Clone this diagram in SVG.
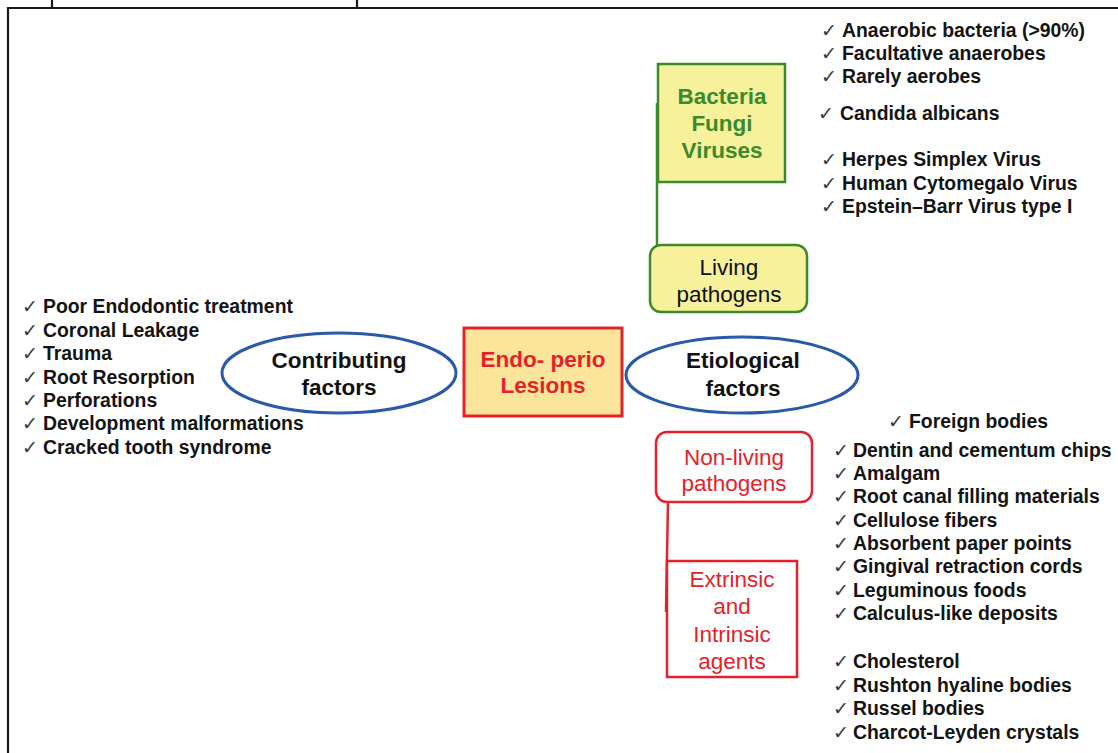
<svg xmlns="http://www.w3.org/2000/svg" width="1118" height="753" viewBox="0 0 1118 753">
<style>
.frame{fill:none;stroke:#1a1a1a;stroke-width:2.2}
.t{font-family:"Liberation Sans",Arial,sans-serif;font-size:22.5px;text-anchor:middle}
.b{font-weight:bold}
.li{font-family:"Liberation Sans",Arial,sans-serif;font-size:19.4px;font-weight:bold;fill:#141414}
.ck{font-family:"DejaVu Sans",sans-serif;font-size:19px;font-weight:normal;fill:#3a3a3a}
.green{fill:#f7f19c;stroke:#3d8a2c;stroke-width:2.5}
.red{stroke:#e5222b;stroke-width:2.5}
.ell{fill:#ffffff;stroke:#2a5ba8;stroke-width:3}
.gl{stroke:#3d8a2c;stroke-width:2.5;fill:none}
.rl{stroke:#e5222b;stroke-width:2.5;fill:none}
</style>
<rect width="1118" height="753" fill="#ffffff"/>
<g id="frame">
<path class="frame" d="M8,753 V8 H1118 M52,0 V8 M357,0 V8"/>
</g>
<g id="connectors">
<line class="gl" x1="657" y1="103" x2="657" y2="245"/>
<line class="rl" x1="668" y1="502" x2="666" y2="612"/>
</g>
<g id="bacteria">
<rect class="green" x="658" y="64" width="127" height="118"/>
<text class="t b" fill="#3a8a2e"><tspan x="722" y="104">Bacteria</tspan><tspan x="722" y="131">Fungi</tspan><tspan x="722" y="158">Viruses</tspan></text>
</g>
<g id="living">
<rect class="green" x="650" y="245" width="157" height="67" rx="11"/>
<text class="t" fill="#111"><tspan x="729" y="275">Living</tspan><tspan x="729" y="302">pathogens</tspan></text>
</g>
<g id="endoperio">
<rect x="464" y="328" width="158" height="88" fill="#fae59b" stroke="#e5222b" stroke-width="3"/>
<text class="t b" fill="#e5222b"><tspan x="543" y="367">Endo- perio</tspan><tspan x="543" y="393">Lesions</tspan></text>
</g>
<g id="contributing">
<ellipse class="ell" cx="339" cy="373" rx="117" ry="40"/>
<text class="t b" fill="#111"><tspan x="339" y="368">Contributing</tspan><tspan x="339" y="395">factors</tspan></text>
</g>
<g id="etiological">
<ellipse class="ell" cx="742" cy="375" rx="116" ry="38"/>
<text class="t b" fill="#111"><tspan x="743" y="368">Etiological</tspan><tspan x="743" y="396">factors</tspan></text>
</g>
<g id="nonliving">
<rect x="656" y="432" width="156" height="70" rx="11" fill="#ffffff" class="red"/>
<text class="t" fill="#e5222b"><tspan x="734" y="465">Non-living</tspan><tspan x="734" y="491">pathogens</tspan></text>
</g>
<g id="agents">
<rect x="667" y="561" width="130" height="116" fill="#ffffff" class="red"/>
<text class="t" fill="#e5222b"><tspan x="732" y="587">Extrinsic</tspan><tspan x="732" y="614">and</tspan><tspan x="732" y="642">Intrinsic</tspan><tspan x="732" y="669">agents</tspan></text>
</g>
<g id="contributing-list">
<text class="li" y="313"><tspan class="ck" x="22">✓</tspan><tspan x="43">Poor Endodontic treatment</tspan></text>
<text class="li" y="337"><tspan class="ck" x="22">✓</tspan><tspan x="43">Coronal Leakage</tspan></text>
<text class="li" y="360"><tspan class="ck" x="22">✓</tspan><tspan x="43">Trauma</tspan></text>
<text class="li" y="384"><tspan class="ck" x="22">✓</tspan><tspan x="43">Root Resorption</tspan></text>
<text class="li" y="407"><tspan class="ck" x="22">✓</tspan><tspan x="43">Perforations</tspan></text>
<text class="li" y="430"><tspan class="ck" x="22">✓</tspan><tspan x="43">Development malformations</tspan></text>
<text class="li" y="454"><tspan class="ck" x="22">✓</tspan><tspan x="43">Cracked tooth syndrome</tspan></text>
</g>
<g id="living-list">
<text class="li" y="37"><tspan class="ck" x="821">✓</tspan><tspan x="842">Anaerobic bacteria (&gt;90%)</tspan></text>
<text class="li" y="60"><tspan class="ck" x="821">✓</tspan><tspan x="842">Facultative anaerobes</tspan></text>
<text class="li" y="83"><tspan class="ck" x="821">✓</tspan><tspan x="842">Rarely aerobes</tspan></text>
<text class="li" y="120"><tspan class="ck" x="818">✓</tspan><tspan x="840">Candida albicans</tspan></text>
<text class="li" y="166"><tspan class="ck" x="821">✓</tspan><tspan x="842">Herpes Simplex Virus</tspan></text>
<text class="li" y="190"><tspan class="ck" x="821">✓</tspan><tspan x="842">Human Cytomegalo Virus</tspan></text>
<text class="li" y="213"><tspan class="ck" x="821">✓</tspan><tspan x="842">Epstein–Barr Virus type I</tspan></text>
</g>
<g id="nonliving-list">
<text class="li" y="428"><tspan class="ck" x="888">✓</tspan><tspan x="909">Foreign bodies</tspan></text>
<text class="li" y="457"><tspan class="ck" x="833">✓</tspan><tspan x="853">Dentin and cementum chips</tspan></text>
<text class="li" y="480"><tspan class="ck" x="833">✓</tspan><tspan x="853">Amalgam</tspan></text>
<text class="li" y="503"><tspan class="ck" x="833">✓</tspan><tspan x="853">Root canal filling materials</tspan></text>
<text class="li" y="527"><tspan class="ck" x="833">✓</tspan><tspan x="853">Cellulose fibers</tspan></text>
<text class="li" y="550"><tspan class="ck" x="833">✓</tspan><tspan x="853">Absorbent paper points</tspan></text>
<text class="li" y="573"><tspan class="ck" x="833">✓</tspan><tspan x="853">Gingival retraction cords</tspan></text>
<text class="li" y="597"><tspan class="ck" x="833">✓</tspan><tspan x="853">Leguminous foods</tspan></text>
<text class="li" y="620"><tspan class="ck" x="833">✓</tspan><tspan x="853">Calculus-like deposits</tspan></text>
<text class="li" y="668"><tspan class="ck" x="833">✓</tspan><tspan x="853">Cholesterol</tspan></text>
<text class="li" y="692"><tspan class="ck" x="833">✓</tspan><tspan x="853">Rushton hyaline bodies</tspan></text>
<text class="li" y="715"><tspan class="ck" x="833">✓</tspan><tspan x="853">Russel bodies</tspan></text>
<text class="li" y="739"><tspan class="ck" x="833">✓</tspan><tspan x="853">Charcot-Leyden crystals</tspan></text>
</g>
</svg>
